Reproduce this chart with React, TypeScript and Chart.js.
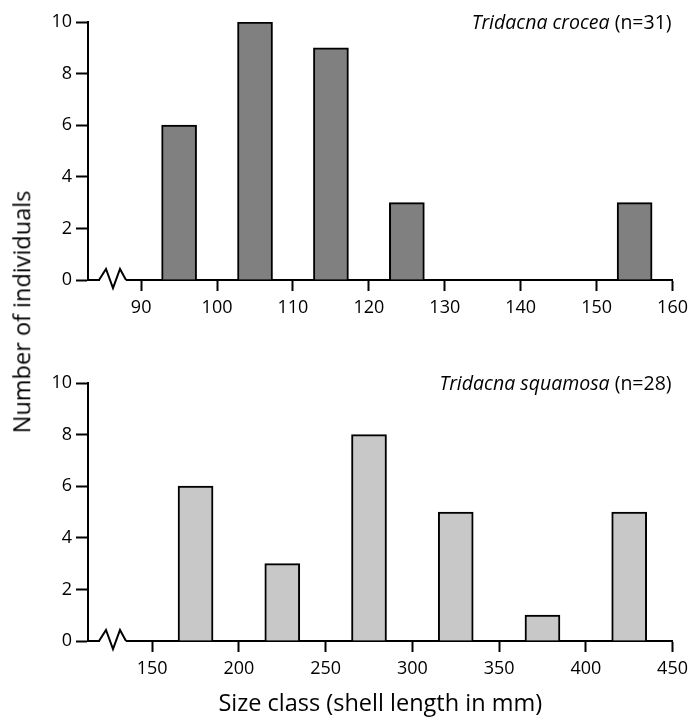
import { useEffect, useRef } from 'react';
import { Chart, registerables } from 'chart.js';

Chart.register(...registerables);

// ---- data ----
const croceaSizes = [95, 105, 115, 125, 155];
const croceaCounts = [6, 10, 9, 3, 3];
const croceaTicks = [90, 100, 110, 120, 130, 140, 150, 160];
const croceaRange = [83, 160];

const squamosaSizes = [175, 225, 275, 325, 375, 425];
const squamosaCounts = [6, 3, 8, 5, 1, 5];
const squamosaTicks = [150, 200, 250, 300, 350, 400, 450];
const squamosaRange = [113, 450];

const countTicks = [0, 2, 4, 6, 8, 10];

const FONT = "'Open Sans', 'DejaVu Sans', sans-serif";

type PanelOpts = {
  sizes: number[];
  counts: number[];
  ticks: number[];
  range: number[];
  fill: string;
  species: string;
  n: string;
  padTop: number;
  xHeight: number;
  xTitle?: string;
};

const labelPlugin = {
  id: 'speciesLabel',
  afterDraw(chart: any) {
    const o = chart.options.plugins.speciesLabel;
    if (!o) return;
    const { ctx, chartArea, scales } = chart;
    ctx.save();
    // species annotation
    ctx.fillStyle = '#000';
    ctx.textBaseline = 'middle';
    ctx.textAlign = 'left';
    const y = scales.y.getPixelForValue(10) + 1;
    ctx.font = `19.5px ${FONT}`;
    const nText = ` (${o.n})`;
    const nW = ctx.measureText(nText).width;
    ctx.font = `italic 19.5px ${FONT}`;
    const sW = ctx.measureText(o.species).width;
    const right = chartArea.right - 1;
    ctx.fillText(o.species, right - nW - sW, y);
    ctx.font = `19.5px ${FONT}`;
    ctx.fillText(nText, right - nW, y);

    // axis break
    const base = scales.y.getPixelForValue(0);
    const l = chartArea.left;
    ctx.fillStyle = '#fff';
    ctx.fillRect(l + 12, base - 2, 26, 4);
    ctx.strokeStyle = '#000';
    ctx.lineWidth = 2;
    ctx.lineJoin = 'miter';
    ctx.beginPath();
    ctx.moveTo(l + 11, base);
    ctx.lineTo(l + 18, base - 11);
    ctx.lineTo(l + 25, base + 8);
    ctx.lineTo(l + 32, base - 11);
    ctx.lineTo(l + 38, base);
    ctx.stroke();
    ctx.restore();
  },
};

function makeConfig(p: PanelOpts): any {
  return {
    type: 'bar',
    data: {
      datasets: [
        {
          data: p.sizes.map((s, i) => ({ x: s, y: p.counts[i] })),
          backgroundColor: p.fill,
          borderColor: '#000',
          borderWidth: 2,
          barThickness: 35,
        },
      ],
    },
    options: {
      animation: false,
      responsive: false,
      devicePixelRatio: 1,
      layout: { padding: { left: 0, right: 20, top: p.padTop, bottom: 0 } },
      plugins: {
        legend: { display: false },
        tooltip: { enabled: false },
        speciesLabel: { species: p.species, n: p.n },
      },
      scales: {
        x: {
          type: 'linear',
          min: p.range[0],
          max: p.range[1],
          offset: false,
          afterBuildTicks: (s: any) => {
            s.ticks = p.ticks.map((v) => ({ value: v }));
          },
          afterFit: (s: any) => {
            s.height = p.xHeight;
          },
          grid: {
            offset: false,
            drawOnChartArea: false,
            drawTicks: true,
            tickLength: 11,
            tickWidth: 2,
            tickColor: '#000',
            color: '#000',
          },
          border: { display: true, color: '#000', width: 2 },
          ticks: {
            color: '#000',
            font: { family: FONT, size: 18 },
            padding: 6,
            maxRotation: 0,
            autoSkip: false,
          },
          title: p.xTitle
            ? {
                display: true,
                text: p.xTitle,
                color: '#000',
                font: { family: FONT, size: 23.5 },
                padding: { top: 0, bottom: 3 },
              }
            : { display: false },
        },
        y: {
          type: 'linear',
          min: 0,
          max: 10,
          afterBuildTicks: (s: any) => {
            s.ticks = countTicks.map((v) => ({ value: v }));
          },
          afterFit: (s: any) => {
            s.width = 88;
          },
          grid: {
            drawOnChartArea: false,
            drawTicks: true,
            tickLength: 12,
            tickWidth: 2,
            tickColor: '#000',
            color: '#000',
          },
          border: { display: true, color: '#000', width: 2 },
          ticks: {
            color: '#000',
            font: { family: FONT, size: 18 },
            padding: 4,
          },
        },
      },
    },
    plugins: [labelPlugin],
  };
}

function Panel({ opts, top, height }: { opts: PanelOpts; top: number; height: number }) {
  const ref = useRef<HTMLCanvasElement | null>(null);
  useEffect(() => {
    if (!ref.current) return;
    const chart = new Chart(ref.current, makeConfig(opts));
    return () => chart.destroy();
  }, []);
  return (
    <canvas
      ref={ref}
      width={694}
      height={height}
      style={{ position: 'absolute', left: 0, top, width: 694, height }}
    />
  );
}

export default function App() {
  const topOpts: PanelOpts = {
    sizes: croceaSizes,
    counts: croceaCounts,
    ticks: croceaTicks,
    range: croceaRange,
    fill: '#808080',
    species: 'Tridacna crocea',
    n: 'n=31',
    padTop: 22,
    xHeight: 50,
  };
  const bottomOpts: PanelOpts = {
    sizes: squamosaSizes,
    counts: squamosaCounts,
    ticks: squamosaTicks,
    range: squamosaRange,
    fill: '#c8c8c8',
    species: 'Tridacna squamosa',
    n: 'n=28',
    padTop: 53,
    xHeight: 80,
    xTitle: 'Size class (shell length in mm)',
  };
  return (
    <div
      style={{
        position: 'absolute',
        left: 0,
        top: 0,
        width: 694,
        height: 721,
        background: '#fff',
        overflow: 'hidden',
      }}
    >
      <Panel opts={topOpts} top={0} height={330} />
      <Panel opts={bottomOpts} top={330} height={391} />
      <div
        style={{
          position: 'absolute',
          left: 22,
          top: 312,
          transform: 'translate(-50%, -50%) rotate(-90deg)',
          whiteSpace: 'nowrap',
          fontFamily: FONT,
          fontSize: 23.5,
          color: '#000',
          lineHeight: 1,
        }}
      >
        Number of individuals
      </div>
    </div>
  );
}
